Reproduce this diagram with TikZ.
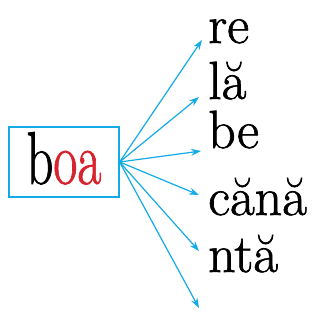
\documentclass[tikz,border=0pt]{standalone}
\usepackage{fontspec}
\usepackage{xcolor}
\usetikzlibrary{arrows.meta}
\newfontfamily\schoolfont[FakeBold=1.2]{Latin Modern Roman}
\definecolor{linkblue}{RGB}{20,170,230}
\definecolor{boared}{RGB}{215,35,45}
\tikzset{
    word/.style={anchor=base west, inner sep=0pt, font=\schoolfont\fontsize{54}{54}\selectfont},
    link/.style={linkblue, line width=1.2bp, -{Stealth[length=10bp, width=7bp]}}
}

\begin{document}
\begin{tikzpicture}[x=1bp, y=-1bp]
    \useasboundingbox (0,0) rectangle (328,326);
    \node[draw=linkblue, line width=1.2bp, minimum width=110bp, minimum height=70bp, inner sep=0pt, text depth=8bp, font=\schoolfont\fontsize{75}{75}\selectfont] (box) at (64,162) {\scalebox{0.7}[1]{b\textcolor{boared}{oa}}};
    \node[word] (re) at (208,43) {re};
    \node[word] (la) at (208,99) {lă};
    \node[word] (be) at (208,148) {be};
    \node[word] (cana) at (208,215) {cănă};
    \node[word] (nta) at (208,272) {ntă};
    \coordinate (re-tip) at (202,40);
    \coordinate (la-tip) at (199,97);
    \coordinate (be-tip) at (201,151);
    \coordinate (cana-tip) at (199,195);
    \coordinate (nta-tip) at (199,251);
    \coordinate (last-tip) at (199,308);
    \foreach \t in {re-tip, la-tip, be-tip, cana-tip, nta-tip, last-tip}
        \draw[link] (box.east) -- (\t);
\end{tikzpicture}
\end{document}
